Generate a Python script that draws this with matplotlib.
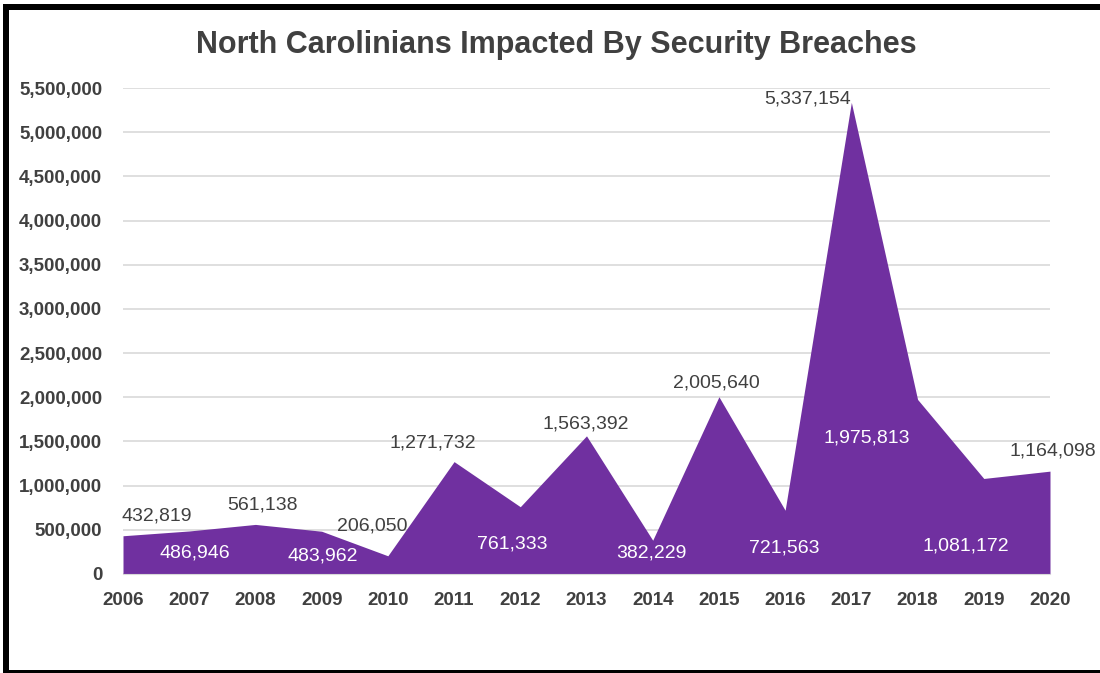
import matplotlib
matplotlib.use("Agg")
import matplotlib.pyplot as plt
from matplotlib.ticker import FuncFormatter, MultipleLocator
from matplotlib.patches import Rectangle

years = [2006, 2007, 2008, 2009, 2010, 2011, 2012, 2013, 2014, 2015, 2016, 2017, 2018, 2019, 2020]
impacted = [432819, 486946, 561138, 483962, 206050, 1271732, 761333, 1563392, 382229,
            2005640, 721563, 5337154, 1975813, 1081172, 1164098]

# label placement: offset in pixels from each point, and whether it sits inside the fill
label_dx = [34, 6, 7, 1, -16, -21, -8, -1, -1, -3, -1, -44, -51, -18, 3]
label_dy = [20, -22, 19, -25, 30, 19, -37, 12, -13, 14, -38, 3, -39, -68, 20]
label_inside = [False, True, False, True, False, False, True, False, True, False, True,
                False, True, True, False]

PURPLE = "#7030A0"
TEXT = "#404040"
FONT = ["Liberation Sans", "DejaVu Sans"]

fig = plt.figure(figsize=(11.0, 6.73), dpi=100)
W, H = 1100, 673
ax = fig.add_axes([123 / W, 1 - 574 / H, (1050 - 123) / W, (574 - 88) / H])

ax.fill_between(years, impacted, 0, color=PURPLE, linewidth=0, zorder=2)
ax.set_xlim(2006, 2020)
ax.set_ylim(0, 5500000)
ax.yaxis.set_major_locator(MultipleLocator(500000))
ax.yaxis.set_major_formatter(FuncFormatter(lambda v, p: f"{int(v):,}"))
ax.set_xticks(years)
ax.grid(axis="y", color="#d9d9d9", linewidth=1.2, zorder=0)
ax.set_axisbelow(True)
for s in ["top", "right", "left"]:
    ax.spines[s].set_visible(False)
ax.spines["bottom"].set_color("#d9d9d9")
ax.tick_params(length=0)
ax.tick_params(axis="y", pad=15)
ax.tick_params(axis="x", pad=13)
for lbl in ax.get_xticklabels() + ax.get_yticklabels():
    lbl.set_fontfamily(FONT)
    lbl.set_fontweight("bold")
    lbl.set_fontsize(13.5)
    lbl.set_color(TEXT)

for x, v, dx, dy, inside in zip(years, impacted, label_dx, label_dy, label_inside):
    ax.annotate(f"{v:,}", xy=(x, v), xytext=(dx, dy), textcoords="offset pixels",
                ha="center", va="center", fontsize=14, family=FONT,
                color="white" if inside else TEXT, zorder=5, annotation_clip=False)

fig.text(556 / W, 1 - 45 / H, "North Carolinians Impacted By Security Breaches",
         ha="center", va="center", fontsize=22, fontweight="bold", family=FONT, color=TEXT)

# frame around the chart (left, top, bottom)
fig.patches.append(Rectangle((3 / W, 0), 6 / W, 1 - 4 / H, transform=fig.transFigure,
                             facecolor="black", edgecolor="none"))
fig.patches.append(Rectangle((3 / W, 1 - 10 / H), 1 - 3 / W, 6 / H, transform=fig.transFigure,
                             facecolor="black", edgecolor="none"))
fig.patches.append(Rectangle((3 / W, 0), 1 - 3 / W, 3 / H, transform=fig.transFigure,
                             facecolor="black", edgecolor="none"))

fig.savefig("out.png", dpi=100)
